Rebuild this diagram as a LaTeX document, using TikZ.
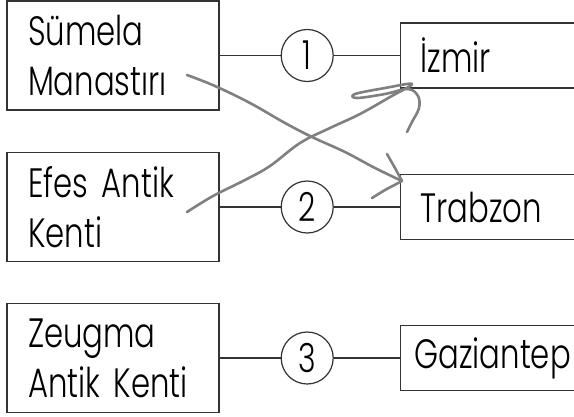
\documentclass[tikz,border=0pt]{standalone}
\usepackage{fontspec}
\setmainfont{Poppins}[FakeStretch=0.75, UprightFont=* Light]
\usetikzlibrary{positioning}
\tikzset{
  lbox/.style  = {rectangle, draw=black!80, line width=1.2pt, fill=white,
                  align=left, text width=170pt, inner xsep=21pt,
                  minimum height=109pt, font=\fontsize{41}{50}\selectfont},
  rbox/.style  = {rectangle, draw=black!80, line width=1.2pt, fill=white,
                  align=left, text width=180pt, inner xsep=20pt,
                  minimum height=65pt, font=\fontsize{41}{50}\selectfont},
  num/.style   = {circle, draw=black!80, line width=1.2pt, fill=white,
                  minimum size=52pt, inner sep=0pt,
                  font=\fontsize{40}{40}\selectfont},
  link/.style  = {line width=1.2pt, draw=black!80},
  hand/.style  = {line width=2.6pt, draw=black!50, line cap=round,
                  line join=round},
}
\begin{document}
\begin{tikzpicture}[x=1pt, y=-1pt]
\clip (0,0) rectangle (574,416);
\fill[white] (0,0) rectangle (574,416);

%% left column
\node[lbox] (sumela) at (113,55.5) {Sümela\\Manastırı};
\node[lbox] (efes)   at (113,207)  {Efes Antik\\Kenti};
\node[lbox] (zeugma) at (113,358)  {Zeugma\\Antik Kenti};

%% numbers
\node[num, right=61pt of sumela] (num_one)   {1};
\node[num, right=61pt of efes]   (num_two)   {2};
\node[num, right=61pt of zeugma] (num_three) {3};

%% right column
\node[rbox, right=66pt of num_one]   (izmir)     {İzmir};
\node[rbox, right=66pt of num_two]   (trabzon)   {Trabzon};
\node[rbox, right=66pt of num_three, inner xsep=14pt, text width=192pt]
  (gaziantep) {Gaziantep};

%% lines
\draw[link] (sumela)    -- (num_one);
\draw[link] (num_one)   -- (izmir);
\draw[link] (efes)      -- (num_two);
\draw[link] (num_two)   -- (trabzon);
\draw[link] (zeugma)    -- (num_three);
\draw[link] (num_three) -- (gaziantep);

%% pencil marks
\coordinate (sumela_tail) at (187,75);
\coordinate (efes_tail)   at (187,212);
\coordinate (trabzon_tip) at (402,181);
\coordinate (izmir_tip)   at (412,84);

\draw[hand] plot[smooth, tension=0.6] coordinates {
  (187,75) (215,86) (250,103) (285,123) (312,137) (345,152) (375,168) (402,181)};
\draw[hand] (387,154) -- (395,168) -- (trabzon_tip) -- (385,190) -- (372,198);

\draw[hand] plot[smooth, tension=0.6] coordinates {
  (187,212) (213,196) (245,180) (270,166) (300,143) (330,128) (360,114)
  (390,97) (412,84) (385,88) (355,94) (357,98) (385,94) (408,89)
  (418,96) (419,108) (412,122) (407,132)};
\end{tikzpicture}
\end{document}
